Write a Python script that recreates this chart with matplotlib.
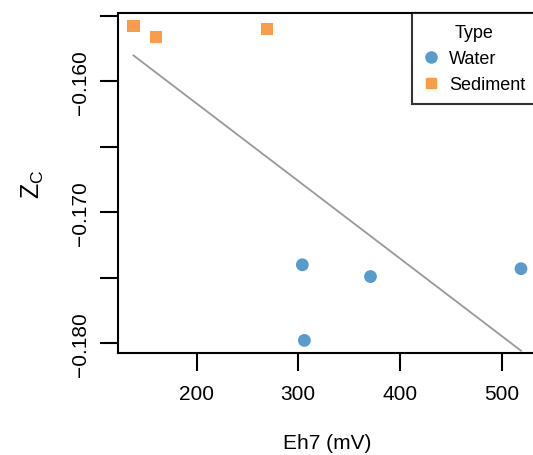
import numpy as np
import matplotlib
matplotlib.use("Agg")
import matplotlib.pyplot as plt
from matplotlib.lines import Line2D

plt.rcParams['font.family'] = ['Liberation Sans', 'DejaVu Sans']
plt.rcParams['mathtext.fontset'] = 'custom'
plt.rcParams['mathtext.rm'] = 'Liberation Sans'
plt.rcParams['mathtext.it'] = 'Liberation Sans'

# Eh7 (mV) and Zc values
water_eh = [304, 371, 306, 519]
water_zc = [-0.1740, -0.1749, -0.17977, -0.1743]
sed_eh = [138, 160, 269]
sed_zc = [-0.15576, -0.1566, -0.1560]

blue = '#5A9BCB'
orange = '#F99D4C'

fig = plt.figure(figsize=(5.33, 4.56), dpi=100)
ax = fig.add_axes([118 / 533, 1 - 354 / 456, (536.5 - 118) / 533, (354 - 14) / 456])

ax.scatter(water_eh, water_zc, s=85, marker='o', color=blue, edgecolors='none', zorder=3)
ax.scatter(sed_eh, sed_zc, s=75, marker='s', color=orange, edgecolors='none', zorder=3)

# linear fit over all points, drawn across the data range
all_x = np.array(water_eh + sed_eh)
all_y = np.array(water_zc + sed_zc)
slope, icpt = np.polyfit(all_x, all_y, 1)
xs = np.array([all_x.min(), all_x.max()])
ax.plot(xs, slope * xs + icpt, color='#999999', lw=1.3, zorder=2)

xr = all_x.max() - all_x.min()
yr = all_y.max() - all_y.min()
ax.set_xlim(all_x.min() - 0.04 * xr, all_x.max() + 0.04 * xr)
ax.set_ylim(all_y.min() - 0.04 * yr, all_y.max() + 0.04 * yr)

ax.set_xticks([200, 300, 400, 500])
ax.set_yticks([-0.18, -0.17, -0.16])
ax.set_yticklabels(['\u22120.180', '\u22120.170', '\u22120.160'], rotation=90, va='center')
ax.set_yticks([-0.175, -0.165, -0.155], minor=True)
ax.tick_params(axis='both', which='both', length=13, width=1.5, labelsize=15)
ax.tick_params(axis='x', pad=9)
ax.tick_params(axis='y', pad=7)
for sp in ax.spines.values():
    sp.set_linewidth(1.5)

ax.set_xlabel('Eh7 (mV)', fontsize=15, labelpad=22)
ax.set_ylabel(r'$Z_\mathrm{C}$', fontsize=18, labelpad=18)

handles = [
    Line2D([], [], marker='o', color=blue, ls='none', markersize=8),
    Line2D([], [], marker='s', color=orange, ls='none', markersize=7),
]
leg = ax.legend(handles, ['Water', 'Sediment'], title='Type', loc='upper right',
                fontsize=13, title_fontsize=13, frameon=True, fancybox=False,
                borderaxespad=0, handletextpad=0.5, handlelength=1.0,
                labelspacing=0.5, borderpad=0.6)
leg.get_frame().set_edgecolor('black')
leg.get_frame().set_linewidth(1.5)

fig.savefig('out.png', dpi=100)
